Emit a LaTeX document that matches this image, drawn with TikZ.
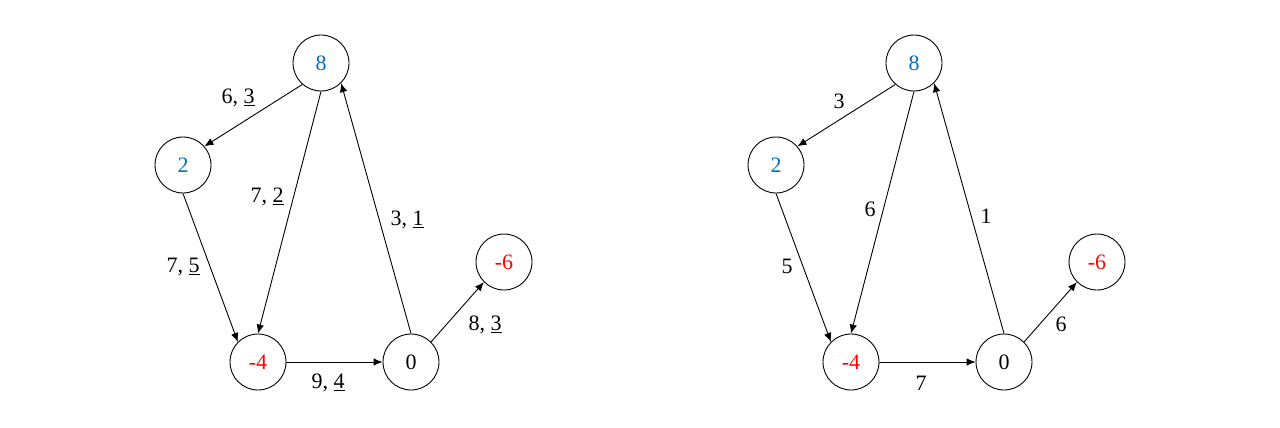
\documentclass[tikz,border=0pt]{standalone}
\usepackage{fontspec}
\setmainfont{Liberation Serif}
\usepackage{tikz}
\usetikzlibrary{arrows.meta, positioning}
\definecolor{nblue}{HTML}{0070C0}
\definecolor{nred}{HTML}{FF0000}

\begin{document}
\begin{tikzpicture}[x=1pt, y=-1pt, line width=0.9pt,
    font=\fontsize{22}{26}\selectfont,
    vtx/.style={circle, draw, minimum size=56pt, inner sep=0pt},
    arc/.style={-{Latex[length=9pt, width=7.5pt]}},
    wlabel/.style={inner sep=0pt}]
  \useasboundingbox (0,0) rectangle (1280,428);

  % Same vertices in both pictures
  \foreach \g/\dx in {a/0, b/593}{
    \node[vtx, text=nblue] (\g8)  at (321+\dx, 63)  {8};
    \node[vtx, text=nblue] (\g2)  at (183+\dx, 165) {2};
    \node[vtx, text=nred]  (\g4)  at (258+\dx, 362) {-4};
    \node[vtx]             (\g0)  at (411+\dx, 362) {0};
    \node[vtx, text=nred]  (\g6)  at (504+\dx, 262) {-6};
    % connectors end on fixed points of the circles
    \draw[arc] (\g8.229) -- (\g2.41);
    \draw[arc] (\g8.south) -- (\g4.north);
    \draw[arc] (\g2.south) -- (\g4.north west);
    \draw[arc] (\g4.east) -- (\g0.west);
    \draw[arc] (\g0.north) -- (\g8.south east);
    \draw[arc] (\g0.north east) -- (\g6.south west);
  }

  % Left: capacity, flow
  \node[wlabel] (l82) at (238, 98)  {6, \underline{3}};
  \node[wlabel] (l84) at (267, 197) {7, \underline{2}};
  \node[wlabel] (l08) at (407, 220) {3, \underline{1}};
  \node[wlabel] (l24) at (183, 267) {7, \underline{5}};
  \node[wlabel] (l40) at (328, 383) {9, \underline{4}};
  \node[wlabel] (l06) at (485, 325) {8, \underline{3}};

  % Right: residual values
  \node[wlabel] (r82) at (839, 101)  {3};
  \node[wlabel] (r84) at (870, 209)  {6};
  \node[wlabel] (r08) at (986, 216)  {1};
  \node[wlabel] (r24) at (787, 266)  {5};
  \node[wlabel] (r40) at (921, 383)  {7};
  \node[wlabel] (r06) at (1061, 324) {6};
\end{tikzpicture}
\end{document}
